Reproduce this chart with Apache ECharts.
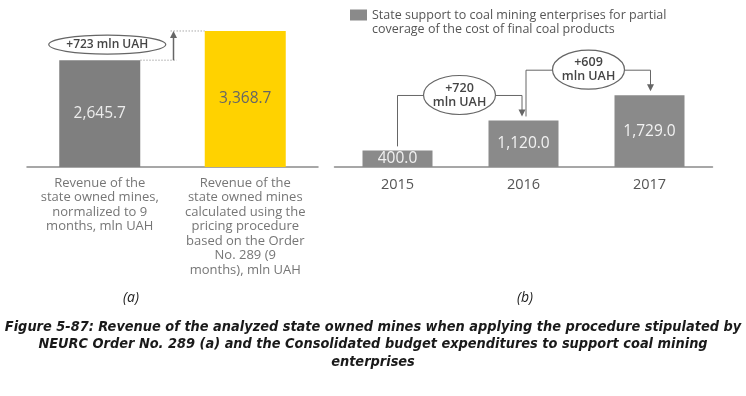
<!DOCTYPE html>
<html><head><meta charset="utf-8">
<script src="https://cdn.jsdelivr.net/npm/echarts@6/dist/echarts.min.js"></script>
<style>html,body{margin:0;padding:0;background:#fff}#c{width:746px;height:396px}</style>
</head><body><div id="c"></div>
<script>
const catsA = ['Revenue of the\nstate owned mines,\nnormalized to 9\nmonths, mln UAH',
  'Revenue of the\nstate owned mines\ncalculated using the\npricing procedure\nbased on the Order\nNo. 289 (9\nmonths), mln UAH'];
const valsA = [2645.7, 3368.7];
const diffA = '+723 mln UAH';
const years = ['2015', '2016', '2017'];
const support = [400.0, 1120.0, 1729.0];
const diffB = ['+720\nmln UAH', '+609\nmln UAH'];
const seriesB = 'State support to coal mining enterprises for partial\ncoverage of the cost of final coal products';
const caption = 'Figure 5-87: Revenue of the analyzed state owned mines when applying the procedure stipulated by\nNEURC Order No. 289 (a) and the Consolidated budget expenditures to support coal mining\nenterprises';

const FONT = "'Open Sans', sans-serif";
const fmt = v => v.toLocaleString('en-US', {minimumFractionDigits: 1, maximumFractionDigits: 1});
const BW_A = 81, BW_B = 70;

const chart = echarts.init(document.getElementById('c'), null, {renderer: 'canvas'});
chart.setOption({
  animation: false,
  title: [
    {text: '(a)', left: 118, top: 286, textStyle: {fontFamily: FONT, fontStyle: 'italic', fontWeight: 'normal', fontSize: 14, color: '#222'}},
    {text: '(b)', left: 512, top: 286, textStyle: {fontFamily: FONT, fontStyle: 'italic', fontWeight: 'normal', fontSize: 14, color: '#222'}}
  ],
  legend: {
    data: [seriesB], left: 345, top: 3, itemWidth: 17, itemHeight: 25, itemGap: 0,
    icon: 'path://M0,0H17V11H0Z M0,24.99H0.01V25H0Z', selectedMode: false,
    textStyle: {fontFamily: FONT, fontSize: 12.5, color: '#555', lineHeight: 14}
  },
  grid: [
    {left: 27, width: 291, top: 5.5, bottom: 229},
    {left: 334.5, width: 378, top: 42.4, bottom: 229}
  ],
  xAxis: [
    {type: 'category', gridIndex: 0, data: catsA,
     axisLine: {lineStyle: {color: '#8a8a8a', width: 1.5}}, axisTick: {show: false},
     axisLabel: {fontFamily: FONT, fontSize: 13, lineHeight: 14.5, color: '#767676', margin: 9, interval: 0}},
    {type: 'category', gridIndex: 1, data: years,
     axisLine: {lineStyle: {color: '#8a8a8a', width: 1.5}}, axisTick: {show: false},
     axisLabel: {fontFamily: FONT, fontSize: 14.5, color: '#555', margin: 10}}
  ],
  yAxis: [
    {type: 'value', gridIndex: 0, min: 0, max: 4000, show: false},
    {type: 'value', gridIndex: 1, min: 0, max: 3000, show: false}
  ],
  series: [
    {type: 'bar', name: 'A', xAxisIndex: 0, yAxisIndex: 0, barWidth: BW_A,
     data: valsA.map((v, i) => ({value: v, itemStyle: {color: i === 0 ? '#7f7f7f' : '#ffd200'},
       label: {color: i === 0 ? '#ececec' : '#666'}})),
     label: {show: true, position: 'inside', fontFamily: FONT, fontSize: 15.5, formatter: p => fmt(p.value)}},
    {type: 'bar', name: seriesB, xAxisIndex: 1, yAxisIndex: 1, barWidth: BW_B,
     itemStyle: {color: '#8a8a8a'}, data: support,
     label: {show: true, position: 'inside', fontFamily: FONT, fontSize: 15.5, color: '#f2f2f2', formatter: p => fmt(p.value)}}
  ]
});

const px = (g, i, v) => chart.convertToPixel({xAxisIndex: g, yAxisIndex: g}, [i, v]);
const LC = '#666';
const els = [];
function arrowDown(x, y) {
  els.push({type: 'polygon', shape: {points: [[x - 3.5, y - 7], [x + 3.5, y - 7], [x, y]]}, style: {fill: LC}, z: 10});
}
function bubble(cx, cy, rx, ry, text, fs) {
  els.push({type: 'ellipse', shape: {cx, cy, rx, ry}, style: {fill: '#fff', stroke: LC, lineWidth: 1.2}, z: 11});
  els.push({type: 'text', x: cx, y: cy, style: {text, fontFamily: FONT, fontWeight: 600, fontSize: fs, lineHeight: 14, fill: '#444', align: 'center', verticalAlign: 'middle'}, z: 12});
}
// Caption
els.push({type: 'text', x: 373, y: 318, style: {text: caption, fontFamily: "'Liberation Sans Narrow', 'DejaVu Sans Condensed', sans-serif",
  fontStyle: 'italic', fontWeight: 'bold', fontSize: 14.4, lineHeight: 17.7, fill: '#1a1a1a', align: 'center', verticalAlign: 'top'}});
// Left annotation
const a1 = px(0, 0, valsA[0]), a2 = px(0, 1, valsA[1]);
const ax = (a1[0] + a2[0]) / 2 + 1;
els.push({type: 'line', shape: {x1: a1[0] + BW_A / 2, y1: a1[1], x2: ax + 3, y2: a1[1]}, style: {stroke: '#aaa', lineWidth: 1, lineDash: [1.5, 1.5]}});
els.push({type: 'line', shape: {x1: ax - 3, y1: a2[1], x2: a2[0] - BW_A / 2, y2: a2[1]}, style: {stroke: '#aaa', lineWidth: 1, lineDash: [1.5, 1.5]}});
els.push({type: 'line', shape: {x1: ax, y1: a1[1], x2: ax, y2: a2[1] + 6}, style: {stroke: LC, lineWidth: 1.5}});
els.push({type: 'polygon', shape: {points: [[ax - 3.5, a2[1] + 7], [ax + 3.5, a2[1] + 7], [ax, a2[1]]]}, style: {fill: LC}});
bubble(a1[0] + 7.5, (a1[1] + a2[1]) / 2 - 1, 58.5, 9.5, diffA, 12);
// Right annotations
const b = support.map((v, i) => px(1, i, v));
for (let k = 0; k < 2; k++) {
  const s = b[k], t = b[k + 1];
  const sx = k === 0 ? s[0] : s[0] + 2.5;
  const tx = k === 0 ? t[0] - 1.5 : t[0] + 1;
  const yTop = t[1] - 25;
  els.push({type: 'polyline', shape: {points: [[sx, s[1] - 4], [sx, yTop], [tx, yTop], [tx, t[1] - 10]]}, style: {stroke: LC, lineWidth: 1, fill: null}});
  arrowDown(tx, t[1] - 4);
  bubble((s[0] + t[0]) / 2 + (k === 0 ? -1 : 2), yTop - 0.5, 36, 19.5, diffB[k], 12.5);
}
chart.setOption({graphic: els});
</script></body></html>
